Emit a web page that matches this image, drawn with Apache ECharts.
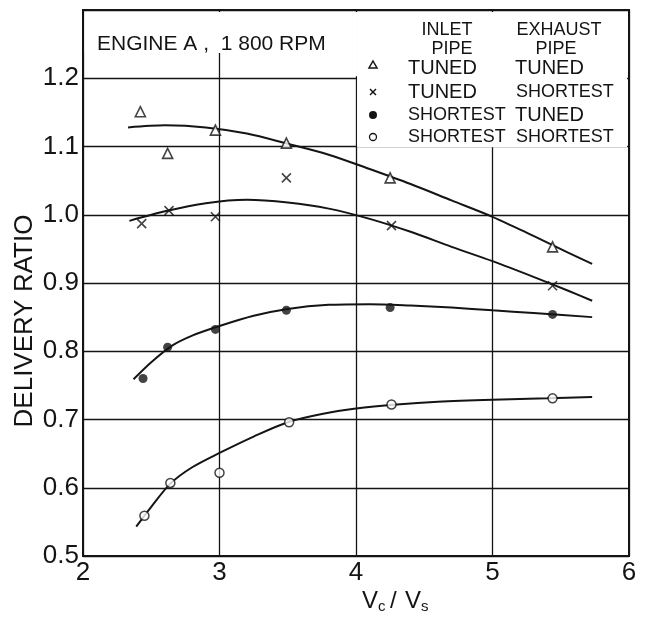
<!DOCTYPE html>
<html><head><meta charset="utf-8">
<script src="https://cdn.jsdelivr.net/npm/echarts@6/dist/echarts.min.js"></script>
<style>html,body{margin:0;padding:0;background:#fff}#c{width:645px;height:618px}</style>
</head><body><div id="c"></div>
<script>
// ---- data ----
const xTicks = ['2','3','4','5','6'];
const yTickLabels = ['0.5','0.6','0.7','0.8','0.9','1.0','1.1','1.2'];

// measured points (Vc/Vs, delivery ratio)
const ttX = [2.42, 2.62, 2.97, 3.49, 4.25, 5.44];
const ttY = [1.151, 1.090, 1.124, 1.105, 1.054, 0.953];   // inlet tuned / exhaust tuned
const tsX = [2.43, 2.63, 2.97, 3.49, 4.26, 5.44];
const tsY = [0.987, 1.006, 0.997, 1.054, 0.984, 0.896];   // inlet tuned / exhaust shortest
const stX = [2.44, 2.62, 2.97, 3.49, 4.25, 5.44];
const stY = [0.760, 0.806, 0.832, 0.860, 0.864, 0.854];   // inlet shortest / exhaust tuned
const ssX = [2.45, 2.64, 3.00, 3.51, 4.26, 5.44];
const ssY = [0.559, 0.607, 0.622, 0.696, 0.722, 0.731];   // inlet shortest / exhaust shortest

// faired curves as drawn on the picture
const curveTT = [[2.33,1.128],[2.6,1.131],[2.9,1.128],[3.2,1.119],[3.5,1.104],[3.8,1.088],[4.1,1.067],[4.4,1.045],[4.7,1.021],[5.0,0.997],[5.3,0.969],[5.55,0.945],[5.73,0.928]];
const curveTS = [[2.34,0.991],[2.6,1.005],[2.9,1.017],[3.2,1.022],[3.5,1.018],[3.8,1.009],[4.1,0.994],[4.4,0.975],[4.7,0.953],[5.0,0.932],[5.3,0.909],[5.55,0.889],[5.73,0.874]];
const curveST = [[2.37,0.759],[2.5,0.784],[2.65,0.808],[2.8,0.823],[3.0,0.837],[3.25,0.852],[3.5,0.862],[3.8,0.868],[4.1,0.869],[4.4,0.867],[4.7,0.864],[5.0,0.860],[5.3,0.856],[5.73,0.850]];
const curveSS = [[2.39,0.543],[2.5,0.572],[2.64,0.606],[2.8,0.630],[3.0,0.651],[3.25,0.675],[3.5,0.696],[3.75,0.708],[4.0,0.716],[4.3,0.722],[4.6,0.726],[5.0,0.729],[5.4,0.731],[5.73,0.733]];

const zip = (xs, ys) => xs.map((x, i) => [x, ys[i]]);
const FONT = '"Liberation Sans", "DejaVu Sans", sans-serif';
const INK = '#141414';

const chart = echarts.init(document.getElementById('c'));

const curve = (data, extra) => Object.assign({
  type: 'line', data, showSymbol: false, smooth: 0.3,
  lineStyle: { color: INK, width: 2 }, z: 3, silent: true
}, extra || {});

const pts = (data, symbol, size, fill, bw) => ({
  type: 'scatter', data, symbol, symbolSize: size, z: 5, silent: true,
  itemStyle: { color: fill, borderColor: INK, borderWidth: bw }
});

const option = {
  backgroundColor: '#fff',
  animation: false,
  grid: { left: 83, right: 16, top: 10, bottom: 62, show: true, borderColor: INK, borderWidth: 2 },
  xAxis: {
    type: 'value', min: 2, max: 6, interval: 1,
    axisLine: { show: false }, axisTick: { show: false },
    axisLabel: { color: INK, fontFamily: FONT, fontSize: 26, margin: 4,
      formatter: v => xTicks[Math.round(v - 2)] },
    splitLine: { show: true, lineStyle: { color: INK, width: 1.3 } }
  },
  yAxis: {
    type: 'value', min: 0.5, max: 1.3, interval: 0.1,
    axisLine: { show: false }, axisTick: { show: false },
    axisLabel: { color: INK, fontFamily: FONT, fontSize: 26, margin: 4,
      formatter: v => yTickLabels[Math.round((v - 0.5) * 10)] || '' },
    splitLine: { show: true, lineStyle: { color: INK, width: 1.3 } }
  },
  series: [
    curve(curveTT, {
      markArea: {
        silent: true,
        itemStyle: { color: '#fff', borderWidth: 0 },
        data: [
          [{ coord: [2.012, 1.237] }, { coord: [4.008, 1.297] }],
          [{ coord: [3.97, 1.203] }, { coord: [4.008, 1.237] }],
          [{ coord: [4.008, 1.099] }, { coord: [5.986, 1.297] }]
        ]
      }
    }),
    curve(curveTS),
    curve(curveST),
    curve(curveSS),
    pts(zip(ttX, ttY), 'triangle', 10, '#fff', 1.6),
    pts(zip(tsX, tsY), 'path://M0,0L10,10M10,0L0,10', 9, 'none', 1.6),
    pts(zip(stX, stY), 'circle', 9, INK, 0),
    pts(zip(ssX, ssY), 'circle', 9, '#fff', 1.5)
  ],
  graphic: [
    { type: 'text', x: 97, y: 44, z: 20, style: { text: 'ENGINE A ,  1 800 RPM', font: '21px ' + FONT, fill: INK, align: 'left', verticalAlign: 'middle' } },
    { type: 'text', x: 447, y: 30, z: 20, style: { text: 'INLET', font: '18px ' + FONT, fill: INK, align: 'center', verticalAlign: 'middle' } },
    { type: 'text', x: 452, y: 49, z: 20, style: { text: 'PIPE', font: '18px ' + FONT, fill: INK, align: 'center', verticalAlign: 'middle' } },
    { type: 'text', x: 559, y: 30, z: 20, style: { text: 'EXHAUST', font: '18px ' + FONT, fill: INK, align: 'center', verticalAlign: 'middle' } },
    { type: 'text', x: 556, y: 49, z: 20, style: { text: 'PIPE', font: '18px ' + FONT, fill: INK, align: 'center', verticalAlign: 'middle' } },
    { type: 'text', x: 408, y: 68, z: 20, style: { text: 'TUNED', font: '20px ' + FONT, fill: INK, verticalAlign: 'middle' } },
    { type: 'text', x: 515, y: 68, z: 20, style: { text: 'TUNED', font: '20px ' + FONT, fill: INK, verticalAlign: 'middle' } },
    { type: 'text', x: 408, y: 92, z: 20, style: { text: 'TUNED', font: '20px ' + FONT, fill: INK, verticalAlign: 'middle' } },
    { type: 'text', x: 516, y: 92, z: 20, style: { text: 'SHORTEST', font: '18px ' + FONT, fill: INK, verticalAlign: 'middle' } },
    { type: 'text', x: 408, y: 115, z: 20, style: { text: 'SHORTEST', font: '18px ' + FONT, fill: INK, verticalAlign: 'middle' } },
    { type: 'text', x: 515, y: 115, z: 20, style: { text: 'TUNED', font: '20px ' + FONT, fill: INK, verticalAlign: 'middle' } },
    { type: 'text', x: 408, y: 137, z: 20, style: { text: 'SHORTEST', font: '18px ' + FONT, fill: INK, verticalAlign: 'middle' } },
    { type: 'text', x: 516, y: 137, z: 20, style: { text: 'SHORTEST', font: '18px ' + FONT, fill: INK, verticalAlign: 'middle' } },
    { type: 'polygon', z: 20, shape: { points: [[373, 61], [377, 68], [369, 68]] }, style: { fill: '#fff', stroke: INK, lineWidth: 1.5 } },
    { type: 'line', z: 20, shape: { x1: 370, y1: 89, x2: 376, y2: 95 }, style: { stroke: INK, lineWidth: 1.5 } },
    { type: 'line', z: 20, shape: { x1: 376, y1: 89, x2: 370, y2: 95 }, style: { stroke: INK, lineWidth: 1.5 } },
    { type: 'circle', z: 20, shape: { cx: 373, cy: 115, r: 4 }, style: { fill: INK } },
    { type: 'circle', z: 20, shape: { cx: 373, cy: 137, r: 3.5 }, style: { fill: '#fff', stroke: INK, lineWidth: 1.3 } },
    { type: 'text', x: 25, y: 321, rotation: Math.PI / 2, z: 20, style: { text: 'DELIVERY RATIO', font: '26px ' + FONT, fill: INK, align: 'center', verticalAlign: 'middle' } },
    { type: 'text', x: 362, y: 601, z: 20, style: { text: 'V', font: '24px ' + FONT, fill: INK, verticalAlign: 'middle' } },
    { type: 'text', x: 378, y: 607, z: 20, style: { text: 'c', font: '15px ' + FONT, fill: INK, verticalAlign: 'middle' } },
    { type: 'text', x: 390, y: 601, z: 20, style: { text: '/', font: '24px ' + FONT, fill: INK, verticalAlign: 'middle' } },
    { type: 'text', x: 405, y: 601, z: 20, style: { text: 'V', font: '24px ' + FONT, fill: INK, verticalAlign: 'middle' } },
    { type: 'text', x: 421, y: 607, z: 20, style: { text: 's', font: '15px ' + FONT, fill: INK, verticalAlign: 'middle' } }
  ]
};
chart.setOption(option);
</script>
</body></html>
